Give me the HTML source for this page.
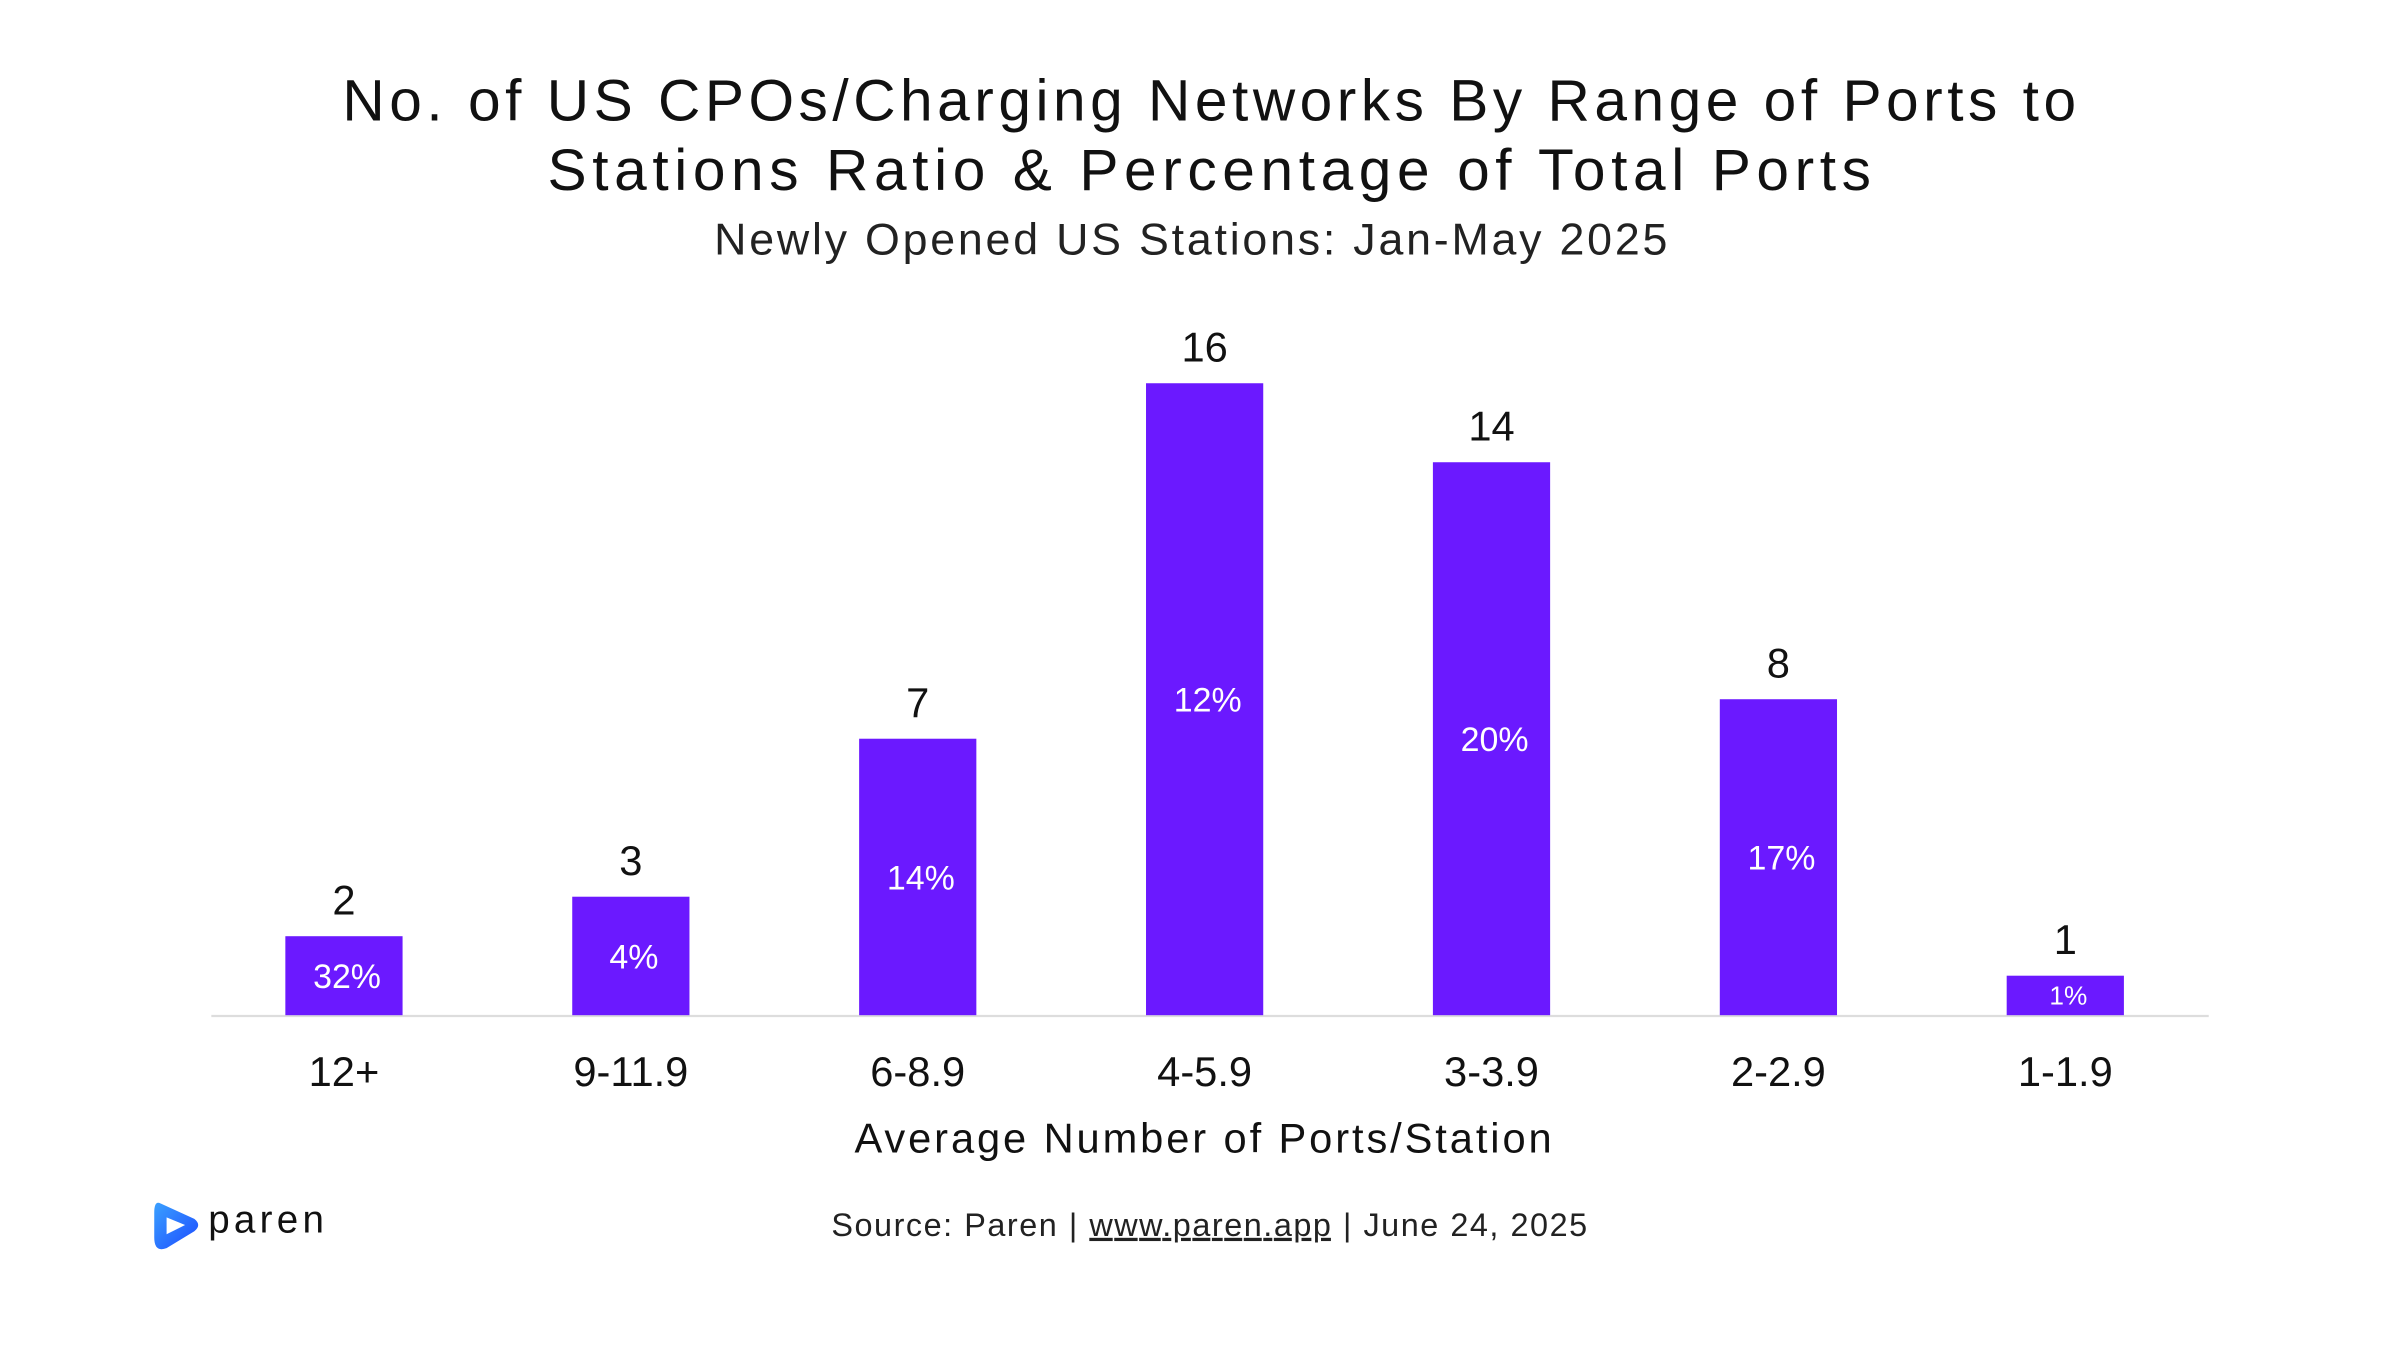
<!DOCTYPE html>
<html><head><meta charset="utf-8"><style>
html,body{margin:0;padding:0;background:#fff;}
svg{display:block;font-family:"Liberation Sans",sans-serif;}
</style></head><body>
<svg width="2400" height="1350" viewBox="0 0 1556 875" preserveAspectRatio="none" xmlns="http://www.w3.org/2000/svg">
<rect width="1556" height="875" fill="#fff"/>
<text x="784" y="78" text-anchor="middle" font-size="38" fill="#111" textLength="1124" lengthAdjust="spacing">No. of US CPOs/Charging Networks By Range of Ports to</text>
<text x="784" y="123" text-anchor="middle" font-size="38" fill="#111" textLength="858" lengthAdjust="spacing">Stations Ratio &amp; Percentage of Total Ports</text>
<text x="772" y="165" text-anchor="middle" font-size="29" fill="#222" textLength="618" lengthAdjust="spacing">Newly Opened US Stations: Jan-May 2025</text>
<line x1="137" y1="658.5" x2="1432" y2="658.5" stroke="#ddd" stroke-width="1.5"/>
<g id="bars"></g>
<text x="780" y="747" text-anchor="middle" font-size="27" fill="#111" textLength="452" lengthAdjust="spacing">Average Number of Ports/Station</text>
<text x="784" y="801" text-anchor="middle" font-size="21" fill="#222" textLength="490" lengthAdjust="spacing">Source: Paren | <tspan text-decoration="underline">www.paren.app</tspan> | June 24, 2025</text>
<g>
<defs><linearGradient id="lg" x1="0" y1="0" x2="1" y2="1"><stop offset="0" stop-color="#3aa0ff"/><stop offset="1" stop-color="#1d4bff"/></linearGradient></defs>
<path d="M104 780 Q100 778 100 786 L100 802 Q100 812 108 809 L126 798 Q131 794 126 790 Z" fill="url(#lg)"/>
<path d="M108 789 L120 794 L108 800 Z" fill="#fff"/>
<text x="135" y="799" font-size="25" fill="#111" textLength="75" lengthAdjust="spacing">paren</text>
</g>
</svg>
<script>
const categories = ["12+","9-11.9","6-8.9","4-5.9","3-3.9","2-2.9","1-1.9"];
const counts = [2,3,7,16,14,8,1];
const percentLabels = ["32%","4%","14%","12%","20%","17%","1%"];
const NS="http://www.w3.org/2000/svg";
const g=document.getElementById('bars');
const baseY=658, unit=25.6, x0=223, step=186, bw=76;
function xScale(i){return x0+i*step;}
function yScale(v){return baseY-v*unit;}
function mk(tag,attrs){const e=document.createElementNS(NS,tag);for(const k in attrs)e.setAttribute(k,attrs[k]);return e;}
categories.forEach((c,i)=>{
  const cx=xScale(i), top=yScale(counts[i]);
  const r=mk('rect',{x:cx-bw/2,y:top,width:bw,height:baseY-top,fill:'#6b19ff'});
  
  
  g.appendChild(r);
  const v=mk('text',{x:cx,y:top-14,'text-anchor':'middle','font-size':27,fill:'#111'});
  v.textContent=counts[i];
  
  
  g.appendChild(v);
  const small=(baseY-top)<40;
  const p=mk('text',{x:cx+2,y:(top+baseY)/2+(small?6:8),'text-anchor':'middle','font-size':small?17:22,fill:'#fff'});
  p.textContent=percentLabels[i];
  
  
  g.appendChild(p);
  const t=mk('text',{x:cx,y:704,'text-anchor':'middle','font-size':27,fill:'#111'});
  t.textContent=c;
  
  
  g.appendChild(t);
});
</script>
</body></html>
